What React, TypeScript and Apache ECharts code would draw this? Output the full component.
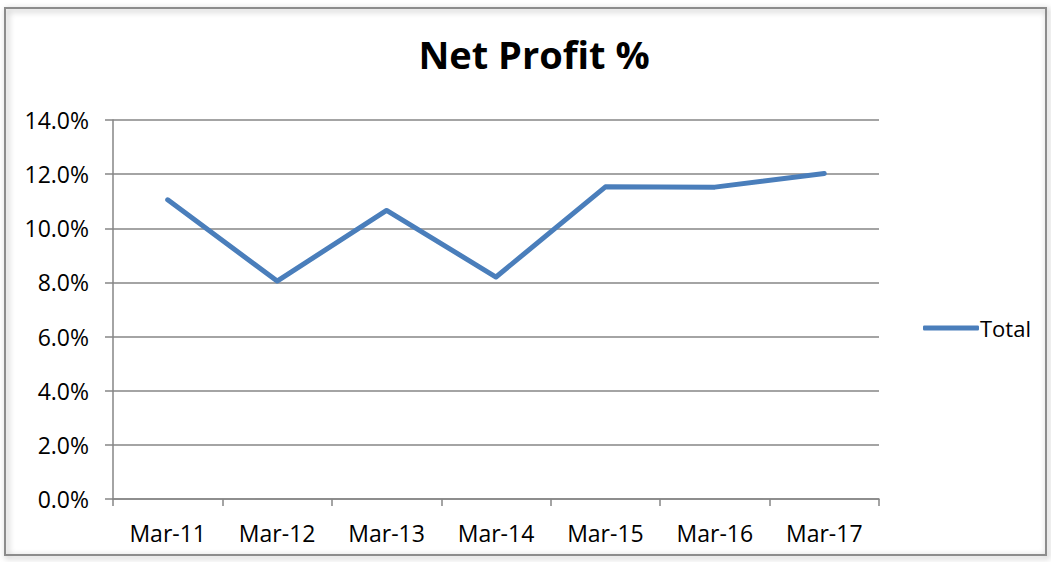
import React, { useEffect, useRef } from "react";
import * as echarts from "echarts";

const categories = ["Mar-11", "Mar-12", "Mar-13", "Mar-14", "Mar-15", "Mar-16", "Mar-17"];
const totalValues = [11.05, 8.05, 10.66, 8.2, 11.53, 11.52, 12.02];
const seriesName = "Total";
const titleText = "Net Profit %";

export default function App() {
  const ref = useRef<HTMLDivElement>(null);
  useEffect(() => {
    if (!ref.current) return;
    const chart = echarts.init(ref.current, undefined, { renderer: "svg" });
    const font = "'Open Sans', Lato, sans-serif";
    chart.setOption({
      animation: false,
      backgroundColor: "#ffffff",
      title: {
        text: titleText,
        left: 529,
        textAlign: "center",
        top: 30,
        textStyle: { fontFamily: font, fontSize: 38, fontWeight: "bold", color: "#000" },
      },
      legend: {
        data: [{ name: seriesName, icon: "roundRect" }],
        left: 918,
        top: 312,
        itemWidth: 56,
        itemHeight: 5,
        itemGap: 4,
        textStyle: { fontFamily: font, fontSize: 22, color: "#000", padding: [0, 0, 0, -4] },
      },
      grid: { left: 113, right: 172, top: 120, bottom: 63 },
      xAxis: {
        type: "category",
        data: categories,
        boundaryGap: true,
        axisLine: { lineStyle: { color: "#868686", width: 1.5 } },
        axisTick: { show: true, length: 7, interval: 0, lineStyle: { color: "#868686", width: 1.5 } },
        axisLabel: { fontFamily: font, fontSize: 23, color: "#000", margin: 22 },
      },
      yAxis: {
        type: "value",
        min: 0,
        max: 14,
        interval: 2,
        axisLine: { show: true, lineStyle: { color: "#868686", width: 1.5 } },
        axisTick: { show: true, length: 8, lineStyle: { color: "#868686", width: 1.5 } },
        splitLine: { lineStyle: { color: "#868686", width: 1.5 } },
        axisLabel: {
          fontFamily: font,
          fontSize: 23,
          color: "#000",
          margin: 24,
          formatter: (v: number) => v.toFixed(1) + "%",
        },
      },
      series: [
        {
          name: seriesName,
          type: "line",
          data: totalValues,
          symbol: "none",
          lineStyle: { color: "#4a7ebb", width: 5, cap: "round", join: "round" },
          itemStyle: { color: "#4a7ebb" },
        },
      ],
      graphic: [
        {
          type: "rect",
          shape: { x: 5, y: 8, width: 1041, height: 547 },
          style: {
            fill: "none",
            stroke: "#8c8c8c",
            lineWidth: 2,
            shadowBlur: 6,
            shadowColor: "rgba(0,0,0,0.35)",
            shadowOffsetX: 2,
            shadowOffsetY: 2,
          },
          silent: true,
          z: -1,
        },
      ],
    });
    return () => chart.dispose();
  }, []);
  return (
    <div
      ref={ref}
      style={{ position: "fixed", left: 0, top: 0, width: 1051, height: 562 }}
    />
  );
}
